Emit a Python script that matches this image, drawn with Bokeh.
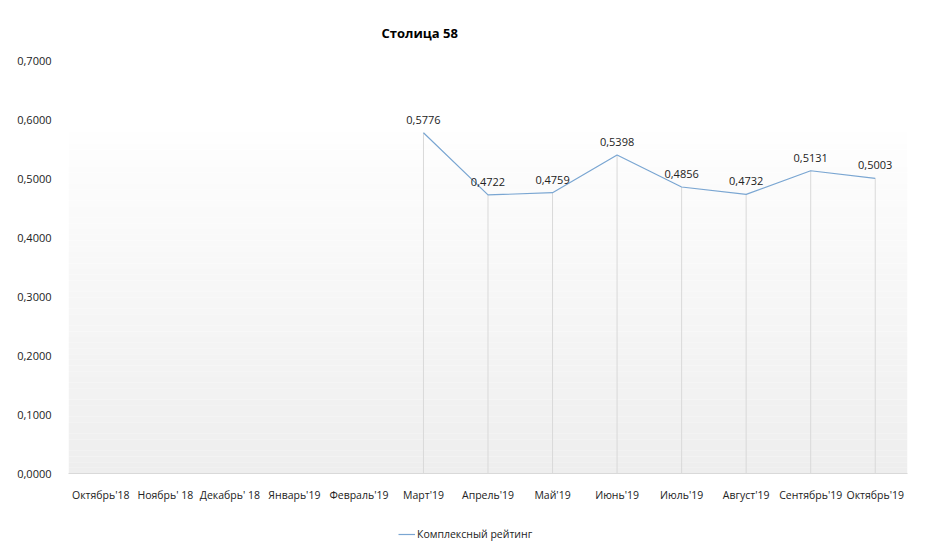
from bokeh.plotting import figure
from bokeh.layouts import column
from bokeh.models import (FactorRange, Range1d, CustomJSTickFormatter, BoxAnnotation,
                          Legend, LegendItem, Title, ColumnDataSource)
from bokeh.embed import file_html
from bokeh.resources import INLINE
from bokeh.core.properties import value
import numpy as np

months = ["Октябрь'18", "Ноябрь' 18", "Декабрь' 18", "Январь'19", "Февраль'19", "Март'19",
          "Апрель'19", "Май'19", "Июнь'19", "Июль'19", "Август'19", "Сентябрь'19", "Октябрь'19"]
rating = [None, None, None, None, None, 0.5776, 0.4722, 0.4759, 0.5398, 0.4856, 0.4732, 0.5131, 0.5003]
y_ticks = [0.0, 0.1, 0.2, 0.3, 0.4, 0.5, 0.6, 0.7]
title_text = "Столица 58"
series_name = "Комплексный рейтинг"

FONT = "Open Sans"
W = 922
LINE_COLOR = "#7aa6d2"

p = figure(width=W, height=505, output_backend="svg", toolbar_location=None,
           x_range=FactorRange(*months, range_padding=0), y_range=Range1d(0, 0.7),
           min_border_left=68, min_border_right=15, min_border_top=60, min_border_bottom=32)
p.background_fill_color = "white"
p.border_fill_color = "white"
p.outline_line_color = None
p.xgrid.grid_line_color = None
p.ygrid.grid_line_color = None

# gradient plot-area fill (white -> light gray)
n = 60
top = 0.578
edges = np.linspace(top, 0, n + 1)
for i in range(n):
    t = (i + 0.5) / n
    c = int(round(254 - t * (254 - 238)))
    p.add_layout(BoxAnnotation(bottom=edges[i + 1], top=edges[i], fill_color=(c, c, c),
                               fill_alpha=1, line_alpha=0, level="underlay"))

xs = [m for m, v in zip(months, rating) if v is not None]
ys = [v for v in rating if v is not None]
src = ColumnDataSource(dict(x=xs, y=ys, zero=[0] * len(ys),
                            lab=[f"{v:.4f}".replace(".", ",") for v in ys]))

p.segment(x0="x", y0="zero", x1="x", y1="y", source=src, line_color="#d9d9d9", line_width=1)
p.line(x="x", y="y", source=src, line_color=LINE_COLOR, line_width=1.2)
p.text(x="x", y="y", text="lab", source=src, text_align="center", text_baseline="bottom",
       y_offset=-9, text_font=value(FONT), text_font_size="11px", text_color="#222222")

p.yaxis.ticker = y_ticks
p.yaxis.formatter = CustomJSTickFormatter(code="return tick.toFixed(4).replace('.', ',');")
p.yaxis.axis_line_color = None
p.yaxis.major_tick_line_color = None
p.yaxis.minor_tick_line_color = None
p.yaxis.major_label_standoff = 11
p.yaxis.major_label_text_font = FONT
p.yaxis.major_label_text_font_size = "11px"
p.yaxis.major_label_text_color = "#222222"

p.xaxis.axis_line_color = "#d9d9d9"
p.xaxis.major_tick_line_color = None
p.xaxis.minor_tick_line_color = None
p.xaxis.major_label_standoff = 8
p.xaxis.major_label_text_font = FONT
p.xaxis.major_label_text_font_size = "10.5px"
p.xaxis.major_label_text_color = "#222222"

p.add_layout(Title(text=title_text, align="left", offset=313, standoff=38, text_font=FONT,
                   text_font_size="13px", text_font_style="bold", text_color="#000000"), "above")

# legend strip underneath
lg = figure(width=W, height=50, output_backend="svg", toolbar_location=None,
            x_range=Range1d(0, 1), y_range=Range1d(0, 1),
            min_border_left=0, min_border_right=0, min_border_top=0, min_border_bottom=0)
lg.axis.visible = False
lg.grid.visible = False
lg.outline_line_color = None
lg.background_fill_color = "white"
lg.border_fill_color = "white"
dummy = lg.line(x=[5, 6], y=[5, 6], line_color=LINE_COLOR, line_width=1.2)
legend = Legend(items=[LegendItem(label=series_name, renderers=[dummy])], orientation="horizontal",
                label_text_font=FONT, label_text_font_size="10.5px", label_text_color="#222222",
                border_line_color=None, background_fill_alpha=0, glyph_width=17,
                location=(330, 11), margin=0, padding=0, label_standoff=2)
lg.add_layout(legend)

layout = column(p, lg, spacing=0)
open("out.html", "w").write(file_html(layout, INLINE))
